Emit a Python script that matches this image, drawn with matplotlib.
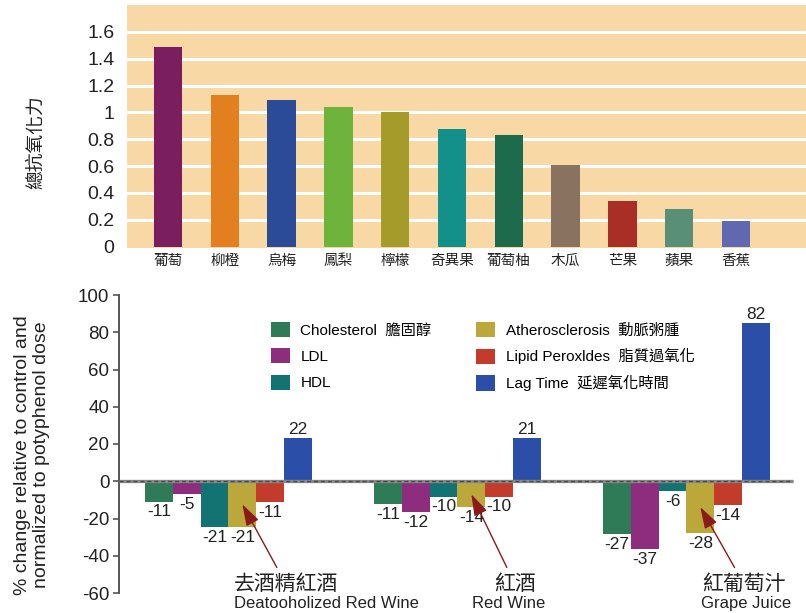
import matplotlib
matplotlib.use("Agg")
import matplotlib.pyplot as plt
from matplotlib import font_manager

# top chart: total antioxidant capacity per fruit
fruits = ["葡萄", "柳橙", "烏梅", "鳳梨", "檸檬", "奇異果", "葡萄柚", "木瓜", "芒果", "蘋果", "香蕉"]
antioxidant = [1.49, 1.13, 1.09, 1.04, 1.00, 0.88, 0.83, 0.61, 0.34, 0.28, 0.19]
fruit_colors = ["#7a1e5f", "#e2801f", "#2b4b98", "#6eb43c", "#a59b2b", "#14908a",
                "#1e6a4c", "#8a7260", "#a92e26", "#5a8f77", "#5f68b0"]

# bottom chart: % change per drink (bar heights as drawn, numbers as printed)
drinks_cn = ["去酒精紅酒", "紅酒", "紅葡萄汁"]
drinks_en = ["Deatooholized Red Wine", "Red Wine", "Grape Juice"]
series = ["Cholesterol  膽固醇", "LDL", "HDL",
          "Atherosclerosis  動脈粥腫", "Lipid Peroxldes  脂質過氧化", "Lag Time  延遲氧化時間"]
series_colors = ["#2f7a57", "#8e2d7e", "#137373", "#bca83a", "#c23b2b", "#2b4fa8"]
cholesterol = [-10.9, -12.2, -28.2]
ldl = [-6.8, -16.6, -36.3]
hdl = [-24.7, -8.2, -5.5]
atherosclerosis = [-24.7, -13.9, -27.7]
lipid = [-11.3, -8.2, -13.0]
lag_time = [23.0, 23.2, 84.7]
cholesterol_txt = [-11, -11, -27]
ldl_txt = [-5, -12, -37]
hdl_txt = [-21, -10, -6]
atherosclerosis_txt = [-21, -14, -28]
lipid_txt = [-11, -10, -14]
lag_time_txt = [22, 21, 82]

heights = [cholesterol, ldl, hdl, atherosclerosis, lipid, lag_time]
printed = [cholesterol_txt, ldl_txt, hdl_txt, atherosclerosis_txt, lipid_txt, lag_time_txt]

names = {f.name for f in font_manager.fontManager.ttflist}
narrow = "Liberation Sans Narrow" if "Liberation Sans Narrow" in names else "Liberation Sans"
CJK = "Noto Sans CJK TC"
LAT = "Liberation Sans"
INK = "#222222"

fig = plt.figure(figsize=(8.06, 6.13), dpi=100)

# ---------- top chart ----------
ax1 = fig.add_axes([127 / 806, 1 - 248 / 613, 1 - 127 / 806, 243 / 613])
ax1.set_facecolor("#f8d9a6")
x1 = list(range(len(fruits)))
for v in [0.2, 0.4, 0.6, 0.8, 1.0, 1.2, 1.4, 1.6]:
    ax1.axhline(v, color="white", lw=2.2, zorder=1)
ax1.bar(x1, antioxidant, width=0.5, color=fruit_colors, zorder=2)
ax1.set_xlim(-0.72, 11.23)
ax1.set_ylim(-0.01, 1.8)
ax1.set_yticks([0, 0.2, 0.4, 0.6, 0.8, 1, 1.2, 1.4, 1.6])
ax1.set_yticklabels(["0", "0.2", "0.4", "0.6", "0.8", "1", "1.2", "1.4", "1.6"],
                    family=LAT, fontsize=14, color=INK)
ax1.set_xticks(x1)
ax1.set_xticklabels(fruits, family=CJK, fontsize=10.5, color=INK)
ax1.tick_params(axis="y", length=0, pad=9)
ax1.tick_params(axis="x", length=0, pad=4)
for s in ax1.spines.values():
    s.set_visible(False)
fig.text(36 / 806, 1 - 142 / 613, "總抗氧化力", rotation=90, ha="center", va="center",
         family=CJK, fontsize=13.5, color=INK)

# ---------- bottom chart ----------
ax2 = fig.add_axes([119 / 806, 1 - 593 / 613, 1 - 119 / 806, 298 / 613])
w = 0.121
groups = list(range(len(drinks_cn)))
for i, (vals, txts) in enumerate(zip(heights, printed)):
    xs = [g + (i - 2.5) * w for g in groups]
    ax2.bar(xs, vals, width=w, color=series_colors[i], label=series[i], zorder=2)
    for xv, v, t in zip(xs, vals, txts):
        if v < 0:
            ax2.annotate(str(t), (xv, v), xytext=(0, -2), textcoords="offset points",
                         ha="center", va="top", family=LAT, fontsize=12.5, color=INK)
        else:
            ax2.annotate(str(t), (xv, v), xytext=(0, 1), textcoords="offset points",
                         ha="center", va="bottom", family=LAT, fontsize=12.5, color=INK)

ax2.set_xlim(-0.478, 2.522)
ax2.set_ylim(-60, 100)
ax2.hlines(0, -0.478, 2.465, color="#8a8a8a", lw=2.4, zorder=3)
ax2.hlines(0, -0.478, 2.465, color="#4a4a4a", lw=1.0, linestyles=(0, (3, 2)), zorder=3)

for g in groups:
    cn = ax2.annotate(drinks_cn[g], xy=(g + 0.5 * w, atherosclerosis[g] / 2),
                      xytext=(g + 0.25, -55), textcoords="data",
                      ha="center", va="center", family=CJK, fontsize=15, color=INK,
                      annotation_clip=False,
                      arrowprops=dict(arrowstyle="-|>,head_length=1.1,head_width=0.35",
                                      color="#8b1a1a", lw=1.0, shrinkA=2, shrinkB=0,
                                      mutation_scale=12))
    ax2.annotate(drinks_en[g], xy=(0, 0), xycoords=cn, xytext=(0, -1),
                 textcoords="offset points", ha="left", va="top",
                 family=LAT, fontsize=12, color=INK, annotation_clip=False)

ax2.set_xticks([])
ax2.set_yticks([-60, -40, -20, 0, 20, 40, 60, 80, 100])
ax2.set_yticklabels(["-60", "-40", "-20", "0", "20", "40", "60", "80", "100"],
                    family=LAT, fontsize=13.5, color=INK)
ax2.tick_params(axis="y", length=4, width=1.2, color="#555555", pad=3)
for k in ["top", "right", "bottom"]:
    ax2.spines[k].set_visible(False)
ax2.spines["left"].set_color("#555555")
ax2.spines["left"].set_linewidth(1.4)

fig.text(32 / 806, 1 - 455 / 613,
         "% change relative to control and\nnormalized to potyphenol dose",
         rotation=90, ha="center", va="center", family=LAT, fontsize=14,
         linespacing=1.1, color=INK)

ax2.legend(loc="upper left", bbox_to_anchor=(263 / 806, 1 - 314 / 613),
           bbox_transform=fig.transFigure, ncol=2, frameon=False, borderpad=0,
           handlelength=1.25, handleheight=1.15, handletextpad=0.7,
           labelspacing=0.7, columnspacing=2.9,
           prop={"family": [narrow, CJK], "size": 11})

fig.savefig("out.png", dpi=100)
